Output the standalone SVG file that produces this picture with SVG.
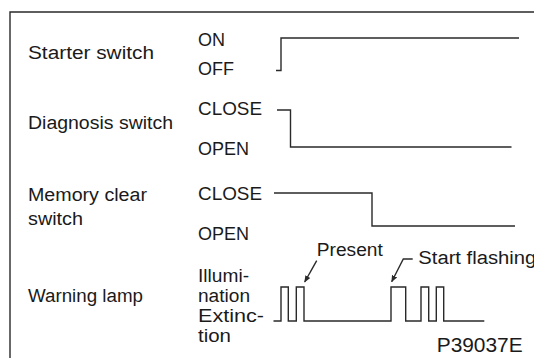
<svg xmlns="http://www.w3.org/2000/svg" width="534" height="358" viewBox="0 0 534 358">
<style>
text{font-family:"Liberation Sans",Arial,sans-serif;font-size:18px;fill:#1a1a1a}
.ln{fill:none;stroke:#2a2a2a;stroke-width:1.4}
</style>
<defs>
<marker id="ah" viewBox="0 0 10 10" refX="9" refY="5" markerWidth="7" markerHeight="7" orient="auto" markerUnits="userSpaceOnUse">
<path d="M0,1 L10,5 L0,9 Z" fill="#2a2a2a"/>
</marker>
</defs>
<rect width="534" height="358" fill="#fff"/>
<path class="ln" d="M10,358 V12 H534" stroke-width="1.6"/>
<g id="starter">
<text x="28" y="59.3" textLength="126" lengthAdjust="spacingAndGlyphs">Starter switch</text>
<text x="198" y="45.5">ON</text>
<text x="198" y="75">OFF</text>
</g>
<g id="diagnosis">
<text x="28" y="128.5" textLength="145" lengthAdjust="spacingAndGlyphs">Diagnosis switch</text>
<text x="198" y="115" textLength="64" lengthAdjust="spacingAndGlyphs">CLOSE</text>
<text x="198" y="155.3">OPEN</text>
</g>
<g id="memory">
<text x="28" y="200.7" textLength="119" lengthAdjust="spacingAndGlyphs">Memory clear</text>
<text x="28" y="225" textLength="55" lengthAdjust="spacingAndGlyphs">switch</text>
<text x="198" y="199.5" textLength="64" lengthAdjust="spacingAndGlyphs">CLOSE</text>
<text x="198" y="240">OPEN</text>
</g>
<g id="warning">
<text x="28" y="301.7" textLength="115" lengthAdjust="spacingAndGlyphs">Warning lamp</text>
<text x="198" y="282" textLength="51" lengthAdjust="spacingAndGlyphs">Illumi-</text>
<text x="198" y="301.5" textLength="52" lengthAdjust="spacingAndGlyphs">nation</text>
<text x="198" y="322" textLength="66" lengthAdjust="spacingAndGlyphs">Extinc-</text>
<text x="198" y="342" textLength="33" lengthAdjust="spacingAndGlyphs">tion</text>
<text x="316.8" y="256" textLength="66" lengthAdjust="spacingAndGlyphs">Present</text>
<text x="418.3" y="263.5" textLength="118" lengthAdjust="spacingAndGlyphs">Start flashing</text>
</g>
<g id="code">
<text x="436.7" y="351.7" font-size="20" textLength="86" lengthAdjust="spacingAndGlyphs" style="font-size:20px">P39037E</text>
</g>
<g id="connectors">
<path class="ln" d="M276,70.5 H281 V38 H519"/>
<path class="ln" d="M277,110 H290.5 V147 H511.5"/>
<path class="ln" d="M274,193 H372 V226 H515"/>
<path class="ln" d="M273.5,321 H281 V287 H288.3 V321 H296.3 V287 H304 V321 H391 V287 H405.7 V321 H421 V287 H428.7 V321 H436.3 V287 H443.7 V321 H484.3"/>
<path class="ln" d="M316.7,260.7 L304.7,282" marker-end="url(#ah)"/>
<path class="ln" d="M412.7,259 H403.3 L391.7,281.7" marker-end="url(#ah)"/>
</g>
</svg>
